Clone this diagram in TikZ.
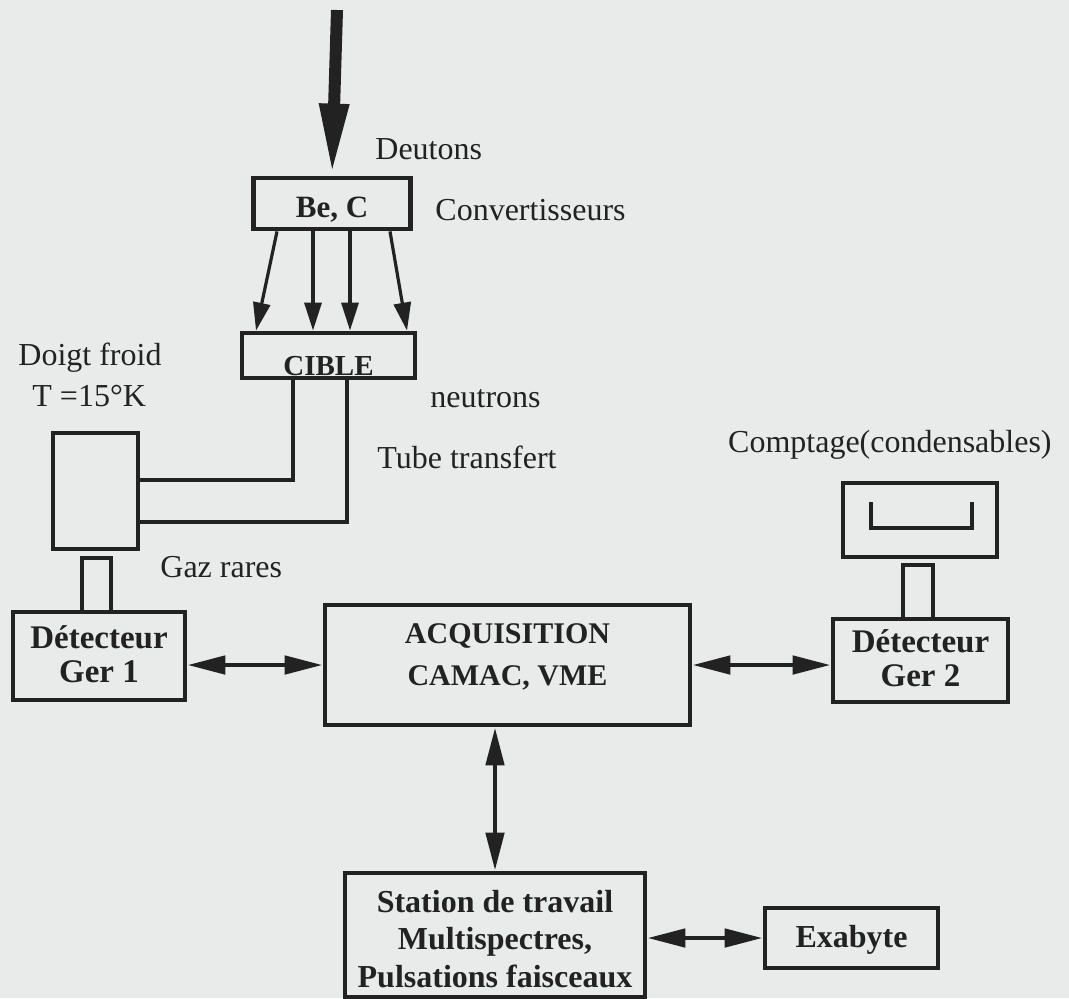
\documentclass[tikz,border=0pt]{standalone}
\usepackage{fontspec}
\setmainfont{Liberation Serif}
\usetikzlibrary{arrows.meta,calc}
\definecolor{paper}{HTML}{E9EAEA}
\definecolor{ink}{HTML}{222222}
% text block inside a box, raised by #1
\newcommand{\bt}[2]{\raisebox{#1}[0pt][0pt]{\begin{tabular}{@{}c@{}}#2\end{tabular}}}

\begin{document}
\begin{tikzpicture}[
  x=0.5pt, y=-0.5pt,
  box/.style={draw=ink, line width=2.4pt, inner sep=0pt, text=ink},
  lab/.style={text=ink, font=\fontsize{16}{19}\selectfont, inner sep=0pt, anchor=base west},
  tube/.style={draw=ink, line width=2.2pt},
  link/.style={{Triangle[length=19pt,width=9pt]}-{Triangle[length=19pt,width=9pt]}, line width=2.4pt, draw=ink},
  beam/.style={-{Triangle[length=14pt,width=8.5pt]}, line width=1.6pt, draw=ink},
  feed/.style={-{Triangle[length=36pt,width=13.5pt]}, line width=6pt, draw=ink}
]
\useasboundingbox[fill=paper] (0,0) rectangle (1069,998);

%% ---------- target line ----------
\node[box, minimum width=78.5pt, minimum height=25.5pt,
      font=\bfseries\fontsize{15.5}{18}\selectfont] (bec) at (332,203.5)
  {\bt{-7pt}{Be, C}};
\node[box, minimum width=86.5pt, minimum height=22.5pt,
      font=\bfseries\fontsize{14.5}{17}\selectfont] (cible) at (328.5,355.5)
  {\bt{-10pt}{CIBLE}};
\coordinate (src) at (337,10);

%% ---------- cold finger ----------
\node[box, minimum width=42.5pt, minimum height=58pt] (doigt) at (95.5,491) {};
\node[box, minimum width=14.5pt, minimum height=27pt] (neckA) at (96.5,585) {};
\node[box, minimum width=86pt, minimum height=44pt,
      font=\bfseries\fontsize{16.5}{17}\selectfont] (ger1) at (99,656)
  {\bt{-5.5pt}{Détecteur\\Ger 1}};

%% ---------- counting ----------
\node[box, minimum width=77pt, minimum height=37pt] (cpt) at (920,520) {};
\node[box, minimum width=15pt, minimum height=27pt] (neckB) at (918,592) {};
\node[box, minimum width=87.5pt, minimum height=41.5pt,
      font=\bfseries\fontsize{16.5}{17}\selectfont] (ger2) at (920.5,660.5)
  {\bt{-5.5pt}{Détecteur\\Ger 2}};

%% ---------- acquisition ----------
\node[box, minimum width=182.5pt, minimum height=60pt,
      font=\bfseries\fontsize{15}{21}\selectfont] (acq) at (507.5,665)
  {\bt{1pt}{ACQUISITION\\CAMAC, VME}};
\node[box, minimum width=150pt, minimum height=62pt,
      font=\bfseries\fontsize{16}{18.75}\selectfont] (station) at (495,935)
  {\bt{-8pt}{Station de travail\\Multispectres,\\Pulsations faisceaux}};
\node[box, minimum width=86.5pt, minimum height=30pt,
      font=\bfseries\fontsize{16}{19}\selectfont] (exa) at (851.5,938)
  {\bt{-5.2pt}{Exabyte}};

%% ---------- labels ----------
\node[lab] at (375,159) {Deutons};
\node[lab] at (435,220) {Convertisseurs};
\node[lab] at (18,365) {Doigt froid};
\node[lab] at (32,406) {T =15°K};
\node[lab] at (430,407) {neutrons};
\node[lab] at (377,468) {Tube transfert};
\node[lab] at (160,577) {Gaz rares};
\node[lab, anchor=base east] at (1052,452) {Comptage(condensables)};

%% ---------- beam and neutrons ----------
\draw[feed] (src) -- (bec.north);
\foreach \a/\b in {-27.5/-36.25, -9.5/-7.75, 9/10.75, 29/39.25}
  \draw[beam] ([xshift=\a pt]bec.south) -- ([xshift=\b pt]cible.north);

%% ---------- transfer tubes ----------
\draw[tube] ([xshift=-17.75pt]cible.south) |- ([yshift=5.5pt]doigt.east);
\draw[tube] ([xshift=9.25pt]cible.south) |- ([yshift=-15.5pt]doigt.east);
\draw[tube] ([shift={(-24.5pt,9pt)}]cpt.center) -- ++(0pt,-13pt)
  -- ++(50.5pt,0pt) -- ++(0pt,13pt);

%% ---------- data links ----------
\draw[link] (ger1.east |- acq.west) -- (acq.west);
\draw[link] (acq.east) -- (acq.east -| ger2.west);
\draw[link] (station.north |- acq.south) -- (station.north);
\draw[link] (station.east |- exa.west) -- (exa.west);

\end{tikzpicture}
\end{document}
